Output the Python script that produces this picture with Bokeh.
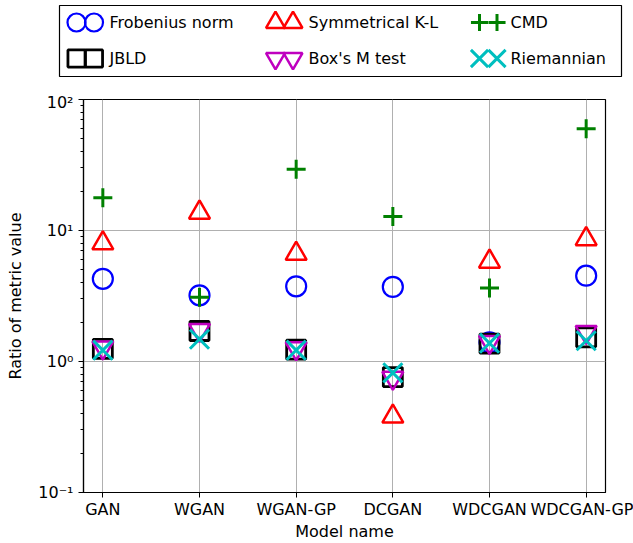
from bokeh.plotting import figure
from bokeh.models import Range1d, FixedTicker
from bokeh.core.properties import value
from bokeh.embed import file_html
from bokeh.resources import INLINE

# ---- data ----
models = ["GAN", "WGAN", "WGAN-GP", "DCGAN", "WDCGAN", "WDCGAN-GP"]
frobenius = [4.28, 3.20, 3.75, 3.71, 1.40, 4.52]
sym_kl = [8.0, 13.7, 6.65, 0.38, 5.79, 8.6]
cmd = [17.8, 3.1, 29.4, 12.8, 3.64, 59.7]
jbld = [1.25, 1.71, 1.23, 0.76, 1.37, 1.53]
box_m = [1.28, 1.74, 1.26, 0.75, 1.41, 1.68]
riemannian = [1.22, 1.48, 1.22, 0.82, 1.38, 1.44]

series_names = ["Frobenius norm", "JBLD", "Symmetrical K-L",
                "Box's M test", "CMD", "Riemannian"]

y_ticks = [0.1, 1, 10, 100]
y_tick_labels = ["10\u207b\u00b9", "10\u2070", "10\u00b9", "10\u00b2"]
y_minor = [0.2, 0.3, 0.4, 0.5, 0.6, 0.7, 0.8, 0.9,
           2, 3, 4, 5, 6, 7, 8, 9,
           20, 30, 40, 50, 60, 70, 80, 90]

FONT = "DejaVu Sans"
W = 633
LEG_H = 92
MAIN_H = 543 - LEG_H

# marker styles (one per series)
styles = [
    dict(marker="circle", size=20, line_color="#0000ff", line_width=2.2),
    dict(marker="square", size=19, line_color="black", line_width=2.8),
    dict(marker="triangle", size=21, line_color="#ff0000", line_width=2.5),
    dict(marker="inverted_triangle", size=21, line_color="#bf00bf", line_width=2.5),
    dict(marker="cross", size=19, line_color="#008000", line_width=3),
    dict(marker="x", size=27, line_color="#00bfbf", line_width=3),
]
series = [frobenius, jbld, sym_kl, box_m, cmd, riemannian]

# ---------------- main plot ----------------
x = list(range(len(models)))
p = figure(width=W, height=MAIN_H, output_backend="svg", toolbar_location=None,
           y_axis_type="log", x_range=Range1d(-0.2, 5.2), y_range=Range1d(0.1, 100),
           min_border_left=83, min_border_right=28, min_border_top=7, min_border_bottom=46)
p.outline_line_color = "black"
p.outline_line_width = 1.2

p.xgrid.grid_line_color = "#b0b0b0"
p.ygrid.grid_line_color = "#b0b0b0"
p.xgrid.grid_line_width = 1
p.ygrid.grid_line_width = 1

p.xaxis.ticker = FixedTicker(ticks=x)
p.xaxis.major_label_overrides = {i: m for i, m in zip(x, models)}
p.xgrid.ticker = FixedTicker(ticks=x)
p.xaxis.axis_label = "Model name"

p.yaxis.ticker = FixedTicker(ticks=y_ticks, minor_ticks=y_minor)
p.ygrid.ticker = FixedTicker(ticks=y_ticks)
p.yaxis.major_label_overrides = {t: l for t, l in zip(y_ticks, y_tick_labels)}
p.yaxis.axis_label = "Ratio of metric value"

for ax in (p.xaxis[0], p.yaxis[0]):
    ax.axis_line_color = "black"
    ax.axis_line_width = 1.2
    ax.major_tick_line_color = "black"
    ax.minor_tick_line_color = "black"
    ax.major_tick_in = 0
    ax.major_tick_out = 5
    ax.minor_tick_in = 0
    ax.minor_tick_out = 3
    ax.major_label_text_font = FONT
    ax.major_label_text_font_size = "16px"
    ax.major_label_text_color = "black"
    ax.axis_label_text_font = FONT
    ax.axis_label_text_font_size = "16px"
    ax.axis_label_text_font_style = "normal"
    ax.axis_label_text_color = "black"
p.xaxis.minor_tick_out = 0
p.xaxis.major_label_standoff = 2
p.xaxis.axis_label_standoff = 0
p.yaxis.axis_label_standoff = 10

for ys, st in zip(series, styles):
    p.scatter(x, ys, fill_color=None, **st)

# ---------------- legend (separate root drawn above the plot) ----------------
lg = figure(width=W, height=LEG_H, output_backend="svg", toolbar_location=None,
            x_range=Range1d(0, W), y_range=Range1d(LEG_H, 0),
            x_axis_location=None, y_axis_location=None,
            min_border=0, min_border_left=0, min_border_right=0,
            min_border_top=0, min_border_bottom=0, outline_line_color=None)
lg.xgrid.visible = False
lg.ygrid.visible = False

box_l, box_r, box_t, box_b = 59, 621, 5, 76
lg.quad(left=box_l, right=box_r, top=box_t, bottom=box_b,
        fill_color="white", line_color="black", line_width=1.2)

col_marker_x = [76, 275, 479]
col_text_x = [109, 308, 510]
row_y = [22, 58]
pair_gap = 17.5
for k, (name, st) in enumerate(zip(series_names, styles)):
    c, r = divmod(k, 2)
    mx = [col_marker_x[c], col_marker_x[c] + pair_gap]
    lst = dict(st)
    lst["size"] = st["size"] * 0.9
    lg.scatter(mx, [row_y[r]] * 2, fill_color=None, **lst)
    lg.text(x=[col_text_x[c]], y=[row_y[r]], text=[name],
            text_font=value(FONT), text_font_size="16px",
            text_baseline="middle", text_align="left", text_color="black")

html = file_html([lg, p], INLINE)
html = html.replace("<body>", "<body style=\"margin:0\">", 1)
open("out.html", "w").write(html)
